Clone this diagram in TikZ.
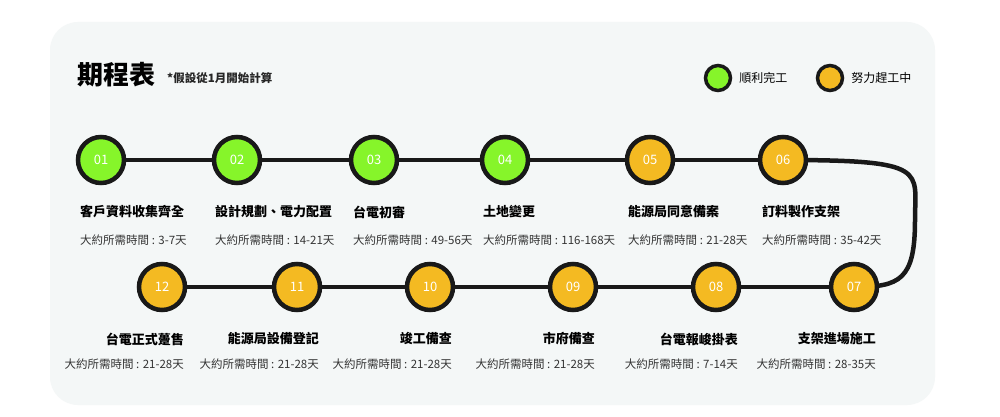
\documentclass[tikz,border=0pt]{standalone}
\usepackage{fontspec}
\setmainfont{Noto Sans CJK TC}
\usetikzlibrary{positioning, backgrounds}
\definecolor{panelbg}{HTML}{F4F7F7}
\definecolor{donegreen}{HTML}{86F52A}
\definecolor{workorange}{HTML}{F4BA22}
\tikzset{
  stepdot/.style = {circle, draw=black!90, line width=4.5pt, minimum size=46pt, inner sep=0pt, text=white, font=\fontsize{13}{14}\selectfont},
  done/.style = {stepdot, fill=donegreen},
  work/.style = {stepdot, fill=workorange},
  legend/.style = {circle, draw=black!90, line width=3.5pt, minimum size=25pt, inner sep=0pt},
  task/.style = {font=\bfseries\fontsize{13}{15}\selectfont, inner sep=0pt},
  dur/.style = {font=\fontsize{11.5}{13}\selectfont, text=black!80, inner sep=0pt},
  track/.style = {line width=4.5pt, black!90}
}
\begin{document}
\begin{tikzpicture}[x=1pt,y=-1pt]
      \useasboundingbox (0,0) rectangle (1000,417);

      \node (title) [anchor=west, font=\bfseries\fontsize{26}{28}\selectfont, inner sep=0pt] at (77,75) {期程表};
      \node (note) [anchor=west, font=\bfseries\fontsize{11.5}{13}\selectfont, inner sep=0pt, text=black!85] at (167,78) {*假設從1月開始計算};

      \node (lg1) [legend, fill=donegreen] at (718,78) {};
      \node (lt1) [anchor=west, font=\fontsize{12}{13}\selectfont, inner sep=0pt, right=7pt of lg1] {順利完工};
      \node (lg2) [legend, fill=workorange] at (830,78) {};
      \node (lt2) [anchor=west, font=\fontsize{12}{13}\selectfont, inner sep=0pt, right=7pt of lg2] {努力趕工中};

      % top row
      \node (s1) [done] at (101,160) {01};
      \node (s2) [done] at (237,160) {02};
      \node (s3) [done] at (374,160) {03};
      \node (s4) [done] at (505,160) {04};
      \node (s5) [work] at (650,160) {05};
      \node (s6) [work] at (783,160) {06};

      \node (t1) [task, anchor=west] at (80,212) {客戶資料收集齊全};
      \node (t2) [task, anchor=west] at (215,212) {設計規劃、電力配置};
      \node (t3) [task, anchor=west] at (353,212) {台電初審};
      \node (t4) [task, anchor=west] at (483,212) {土地變更};
      \node (t5) [task, anchor=west] at (628,212) {能源局同意備案};
      \node (t6) [task, anchor=west] at (762,212) {訂料製作支架};

      \node (d1) [dur, anchor=west] at (80,240) {大約所需時間 : 3-7天};
      \node (d2) [dur, anchor=west] at (215,240) {大約所需時間 : 14-21天};
      \node (d3) [dur, anchor=west] at (353,240) {大約所需時間 : 49-56天};
      \node (d4) [dur, anchor=west] at (483,240) {大約所需時間 : 116-168天};
      \node (d5) [dur, anchor=west] at (628,240) {大約所需時間 : 21-28天};
      \node (d6) [dur, anchor=west] at (762,240) {大約所需時間 : 35-42天};

      % bottom row
      \node (s7) [work] at (854,287) {07};
      \node (s8) [work] at (716,287) {08};
      \node (s9) [work] at (573,287) {09};
      \node (s10) [work] at (430,287) {10};
      \node (s11) [work] at (297,287) {11};
      \node (s12) [work] at (162,287) {12};

      \node (t7) [task, anchor=east] at (876,339) {支架進場施工};
      \node (t8) [task, anchor=east] at (738,339) {台電報峻掛表};
      \node (t9) [task, anchor=east] at (595,339) {市府備查};
      \node (t10) [task, anchor=east] at (452,339) {竣工備查};
      \node (t11) [task, anchor=east] at (319,339) {能源局設備登記};
      \node (t12) [task, anchor=east] at (184,339) {台電正式躉售};

      \node (d7) [dur, anchor=east] at (876,364) {大約所需時間 : 28-35天};
      \node (d8) [dur, anchor=east] at (738,364) {大約所需時間 : 7-14天};
      \node (d9) [dur, anchor=east] at (595,364) {大約所需時間 : 21-28天};
      \node (d10) [dur, anchor=east] at (452,364) {大約所需時間 : 21-28天};
      \node (d11) [dur, anchor=east] at (319,364) {大約所需時間 : 21-28天};
      \node (d12) [dur, anchor=east] at (184,364) {大約所需時間 : 21-28天};

      % panel and track go underneath
      \begin{scope}[on background layer]
        \fill [white] (0,0) rectangle (1000,417);
        \fill [panelbg, rounded corners=28pt] (50,22) rectangle (935,405);
        \draw [track] (s1) -- (s2) -- (s3) -- (s4) -- (s5) -- (s6);
        \draw [track] (s6.center) .. controls (930,160) and (915,170) .. (915,220)
              .. controls (915,280) and (900,287) .. (s7.center);
        \draw [track] (s7) -- (s8) -- (s9) -- (s10) -- (s11) -- (s12);
      \end{scope}
\end{tikzpicture}
\end{document}
